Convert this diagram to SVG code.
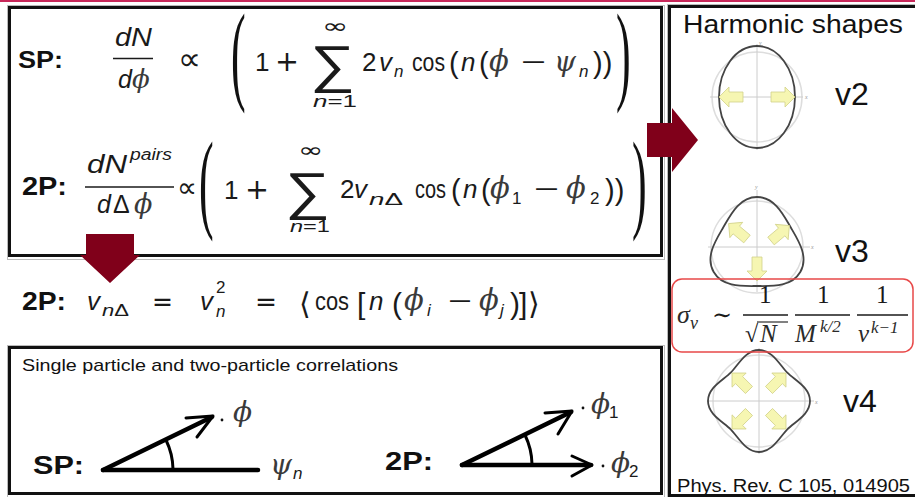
<svg xmlns="http://www.w3.org/2000/svg" xmlns:xlink="http://www.w3.org/1999/xlink" width="915" height="497" viewBox="0 0 915 497">
<style>
.b{font-family:"Liberation Sans",Arial,sans-serif;font-weight:bold;fill:#111}
.m{font-family:"Liberation Sans",Arial,sans-serif;fill:#1a1a1a}
.i{font-family:"Liberation Sans",Arial,sans-serif;font-style:italic;fill:#1a1a1a}
.g{font-family:"Liberation Serif","DejaVu Serif",serif;font-style:italic;fill:#2a2a2a}
.ph{font-family:"DejaVu Serif",serif;font-style:italic;fill:#3a3a3a}
.s{font-family:"DejaVu Sans",sans-serif;fill:#1a1a1a}
.sum{font-family:"Liberation Sans",Arial,sans-serif;fill:#1a1a1a}
.bp{font-family:"Liberation Serif","DejaVu Serif",serif;font-size:110px;fill:#111}
.lab{font-family:"Liberation Sans",Arial,sans-serif;fill:#111}
.box{fill:#fff;stroke:#111;stroke-width:3}
.shd{fill:none;stroke:#bbb;stroke-width:1}
.red{fill:#80001a}
.ya{fill:#f6f6b2;stroke:#d2d28a;stroke-width:0.8}
.shape{fill:none;stroke:#444;stroke-width:1.8}
.circ{fill:none;stroke:#ddd;stroke-width:1.5}
.ax{stroke:#ccc;stroke-width:1}
.tiny{font-family:"Liberation Serif",serif;font-style:italic;font-size:6px;fill:#999}
.vec{stroke:#000;stroke-width:4.5;stroke-linecap:round;fill:none}
.vh{stroke:#000;stroke-width:3;stroke-linecap:round;stroke-linejoin:round;fill:none}
.fr{stroke:#1a1a1a;stroke-width:1.3}
</style>
<defs>
<path id="ya" d="M0,-5 L14,-5 L14,-10 L24,0 L14,10 L14,5 L0,5 Z"/>
</defs>
<rect x="0" y="0" width="915" height="497" fill="#fff"/>
<rect x="0" y="0" width="915" height="2" fill="#c8285a"/>

<g id="formula-box">
<rect class="shd" x="7.5" y="5.5" width="657" height="254"/>
<rect class="box" x="9.5" y="7.5" width="652" height="248"/>
</g>

<g id="formula-sp">
<text class="b" x="18" y="68" font-size="24" textLength="45" lengthAdjust="spacingAndGlyphs">SP:</text>
<text class="i" x="115" y="46" font-size="25" textLength="37" lengthAdjust="spacingAndGlyphs">dN</text>
<line class="fr" x1="113" y1="58.5" x2="153" y2="58.5"/>
<text class="i" x="118" y="88" font-size="25">d</text>
<text class="ph" x="132" y="88" font-size="26">ϕ</text>
<text class="s" x="178" y="70" font-size="32" textLength="23" lengthAdjust="spacingAndGlyphs">∝</text>
<text class="bp" transform="translate(231,90) scale(0.4,1)">(</text>
<text class="m" x="255" y="71" font-size="26">1</text>
<text class="s" x="275" y="71" font-size="28" textLength="24" lengthAdjust="spacingAndGlyphs">+</text>
<text class="s" x="322" y="33" font-size="20" textLength="26" lengthAdjust="spacingAndGlyphs">∞</text>
<text class="sum" x="310" y="82" font-size="52" textLength="45" lengthAdjust="spacingAndGlyphs">∑</text>
<text x="313" y="107" font-size="17" textLength="44" lengthAdjust="spacingAndGlyphs"><tspan class="i">n</tspan><tspan class="m">=1</tspan></text>
<text class="m" x="362" y="71" font-size="26">2</text>
<text class="i" x="379" y="71" font-size="26">v</text>
<text class="i" x="394" y="77" font-size="17">n</text>
<text class="m" x="412" y="71" font-size="26" textLength="33" lengthAdjust="spacingAndGlyphs">cos</text>
<text class="m" x="449" y="73" font-size="29">(</text>
<text class="i" x="461" y="71" font-size="26">n</text>
<text class="m" x="479" y="73" font-size="29">(</text>
<text class="ph" x="489" y="71" font-size="29">ϕ</text>
<text class="m" x="521" y="71" font-size="26" textLength="25" lengthAdjust="spacingAndGlyphs">−</text>
<text class="ph" x="554" y="71" font-size="28">ψ</text>
<text class="i" x="579" y="77" font-size="17">n</text>
<text class="m" x="593" y="73" font-size="29">))</text>
<text class="bp" transform="translate(616,90) scale(0.4,1)">)</text>
</g>

<g id="formula-2p">
<text class="b" x="22" y="195" font-size="25" textLength="45" lengthAdjust="spacingAndGlyphs">2P:</text>
<text class="i" x="87" y="173" font-size="25" textLength="40" lengthAdjust="spacingAndGlyphs">dN</text>
<text class="i" x="130" y="160" font-size="16" textLength="42" lengthAdjust="spacingAndGlyphs">pairs</text>
<line class="fr" x1="85" y1="187" x2="174" y2="187"/>
<text class="i" x="97" y="213" font-size="25">d</text>
<text class="m" x="113" y="213" font-size="25">Δ</text>
<text class="ph" x="134" y="213" font-size="27">ϕ</text>
<text class="s" x="177" y="197" font-size="28" textLength="20" lengthAdjust="spacingAndGlyphs">∝</text>
<text class="bp" transform="translate(199,218) scale(0.4,1)">(</text>
<text class="m" x="224" y="199" font-size="26">1</text>
<text class="s" x="245" y="199" font-size="28" textLength="24" lengthAdjust="spacingAndGlyphs">+</text>
<text class="s" x="298" y="157" font-size="20" textLength="25" lengthAdjust="spacingAndGlyphs">∞</text>
<text class="sum" x="285" y="209" font-size="52" textLength="45" lengthAdjust="spacingAndGlyphs">∑</text>
<text x="290" y="232" font-size="17" textLength="40" lengthAdjust="spacingAndGlyphs"><tspan class="i">n</tspan><tspan class="m">=1</tspan></text>
<text class="m" x="340" y="198" font-size="26">2</text>
<text class="i" x="354" y="198" font-size="26">v</text>
<text x="369" y="205" font-size="17" textLength="34" lengthAdjust="spacingAndGlyphs"><tspan class="i">n</tspan><tspan class="m">Δ</tspan></text>
<text class="m" x="415" y="198" font-size="26" textLength="31" lengthAdjust="spacingAndGlyphs">cos</text>
<text class="m" x="451" y="200" font-size="29">(</text>
<text class="i" x="463" y="198" font-size="26">n</text>
<text class="m" x="481" y="200" font-size="29">(</text>
<text class="ph" x="490" y="198" font-size="29">ϕ</text>
<text class="m" x="512" y="204" font-size="17">1</text>
<text class="m" x="534" y="198" font-size="26" textLength="25" lengthAdjust="spacingAndGlyphs">−</text>
<text class="ph" x="566" y="198" font-size="29">ϕ</text>
<text class="m" x="590" y="204" font-size="17">2</text>
<text class="m" x="605" y="200" font-size="29">))</text>
<text class="bp" transform="translate(632,218) scale(0.4,1)">)</text>
</g>

<g id="formula-vn">
<text class="b" x="22" y="310" font-size="25" textLength="44" lengthAdjust="spacingAndGlyphs">2P:</text>
<text class="i" x="87" y="310" font-size="26">v</text>
<text x="102" y="316" font-size="17" textLength="27" lengthAdjust="spacingAndGlyphs"><tspan class="i">n</tspan><tspan class="m">Δ</tspan></text>
<text class="s" x="152" y="311" font-size="26" textLength="21" lengthAdjust="spacingAndGlyphs">=</text>
<text class="i" x="200" y="310" font-size="26">v</text>
<text class="m" x="216" y="293" font-size="17">2</text>
<text class="i" x="216" y="317" font-size="17">n</text>
<text class="s" x="255" y="311" font-size="26" textLength="22" lengthAdjust="spacingAndGlyphs">=</text>
<text class="s" x="299" y="314" font-size="30">⟨</text>
<text class="m" x="315" y="310" font-size="26" textLength="34" lengthAdjust="spacingAndGlyphs">cos</text>
<text class="m" x="357" y="314" font-size="30">[</text>
<text class="i" x="369" y="310" font-size="26">n</text>
<text class="m" x="392" y="314" font-size="30">(</text>
<text class="ph" x="404" y="310" font-size="29">ϕ</text>
<text class="i" x="427" y="316" font-size="17">i</text>
<text class="m" x="448" y="310" font-size="26" textLength="24" lengthAdjust="spacingAndGlyphs">−</text>
<text class="ph" x="479" y="310" font-size="29">ϕ</text>
<text class="i" x="500" y="316" font-size="17">j</text>
<text class="m" x="510" y="314" font-size="30">)</text>
<text class="m" x="519" y="314" font-size="30">]</text>
<text class="s" x="528" y="314" font-size="30">⟩</text>
</g>

<g id="correlations-box">
<rect class="shd" x="7.5" y="345.5" width="657" height="152"/>
<rect class="box" x="9.5" y="347.5" width="652" height="146"/>
<text class="lab" x="22" y="371" font-size="17" textLength="376" lengthAdjust="spacingAndGlyphs">Single particle and two-particle correlations</text>
</g>

<g id="sp-diagram">
<text class="b" x="33" y="474" font-size="26" textLength="51" lengthAdjust="spacingAndGlyphs">SP:</text>
<line class="vec" x1="103" y1="470" x2="258" y2="470"/>
<line class="vec" x1="103" y1="470" x2="212" y2="417"/>
<path class="vh" d="M186,418 L213,416 L197,437"/>
<path class="vh" d="M166,440 A70,70 0 0 1 173,469"/>
<circle cx="222" cy="420" r="1.4" fill="#111"/>
<text class="ph" x="233" y="421" font-size="28">ϕ</text>
<text class="ph" x="270" y="474" font-size="28">ψ</text>
<text class="i" x="293" y="479" font-size="17">n</text>
</g>

<g id="tp-diagram">
<text class="b" x="385" y="470" font-size="26" textLength="48" lengthAdjust="spacingAndGlyphs">2P:</text>
<line class="vec" x1="462" y1="465" x2="591" y2="465"/>
<line class="vec" x1="462" y1="465" x2="571" y2="412"/>
<path class="vh" d="M572,456 L592,465 L572,476"/>
<path class="vh" d="M545,413 L572,411 L558,434"/>
<path class="vh" d="M525,435 A70,70 0 0 1 532,464"/>
<circle cx="583" cy="408" r="1.4" fill="#111"/>
<text class="ph" x="591" y="413" font-size="28">ϕ</text>
<text class="m" x="609" y="418" font-size="17">1</text>
<circle cx="603" cy="466" r="1.4" fill="#111"/>
<text class="ph" x="611" y="472" font-size="28">ϕ</text>
<text class="m" x="629" y="477" font-size="17">2</text>
</g>

<g id="arrow-down">
<path class="red" d="M86,234 L134,234 L134,255 L140,255 L110,283 L80,255 L86,255 Z"/>
</g>

<g id="harmonic-panel">
<rect class="shd" x="667.5" y="4.5" width="260" height="494"/>
<rect class="box" x="669.5" y="6.5" width="260" height="489"/>
<text class="lab" x="683" y="33" font-size="25" textLength="220" lengthAdjust="spacingAndGlyphs">Harmonic shapes</text>
</g>

<g id="arrow-right">
<path class="red" d="M647,123 L672,123 L672,108 L698,140 L672,172 L672,157 L647,157 Z"/>
</g>

<g id="shape-v2">
<circle class="circ" cx="757" cy="97" r="45"/>
<line class="ax" x1="710" y1="97" x2="803" y2="97"/>
<line class="ax" x1="757" y1="44" x2="757" y2="150"/>
<text class="tiny" x="759" y="45">y</text>
<text class="tiny" x="805" y="99">x</text>
<ellipse class="shape" cx="757" cy="97" rx="38" ry="51"/>
<use xlink:href="#ya" class="ya" transform="translate(771,97)"/>
<use xlink:href="#ya" class="ya" transform="translate(743,97) rotate(180)"/>
<text class="lab" x="835" y="105" font-size="32">v2</text>
</g>

<g id="shape-v3">
<circle class="circ" cx="757" cy="247" r="46"/>
<line class="ax" x1="708" y1="247" x2="810" y2="247"/>
<line class="ax" x1="757" y1="190" x2="757" y2="292"/>
<text class="tiny" x="755" y="189">y</text>
<text class="tiny" x="811" y="249">x</text>
<path class="shape" d="M757,197 C739.1,197 730.2,215.4 723.2,227.5 C716.2,239.6 704.75,256.5 713.7,272 C722.65,287.5 743.1,286 757,286 C770.9,286 791.35,287.5 800.3,272 C809.25,256.5 797.8,239.6 790.8,227.5 C783.8,215.4 774.9,197 757,197 Z"/>
<use xlink:href="#ya" class="ya" transform="translate(747,239) rotate(-140)"/>
<use xlink:href="#ya" class="ya" transform="translate(771,241) rotate(-40)"/>
<use xlink:href="#ya" class="ya" transform="translate(757,257) rotate(90)"/>
<text class="lab" x="835" y="262" font-size="32">v3</text>
</g>

<g id="shape-v4">
<circle class="circ" cx="759" cy="401" r="46"/>
<line class="ax" x1="707" y1="401" x2="814" y2="401"/>
<line class="ax" x1="759" y1="348" x2="759" y2="454"/>
<text class="tiny" x="815" y="404">x</text>
<path class="shape" d="M810,401 C810,387.5 794.8,380.2 787.3,372.7 C779.8,365.2 772.5,350 759,350 C745.5,350 738.2,365.2 730.7,372.7 C723.2,380.2 708,387.5 708,401 C708,414.5 723.2,421.8 730.7,429.3 C738.2,436.8 745.5,452 759,452 C772.5,452 779.8,436.8 787.3,429.3 C794.8,421.8 810,414.5 810,401 Z"/>
<use xlink:href="#ya" class="ya" transform="translate(749,390) rotate(-135)"/>
<use xlink:href="#ya" class="ya" transform="translate(769,390) rotate(-45)"/>
<use xlink:href="#ya" class="ya" transform="translate(749,412) rotate(135)"/>
<use xlink:href="#ya" class="ya" transform="translate(769,412) rotate(45)"/>
<text class="lab" x="843" y="412" font-size="32">v4</text>
</g>

<g id="sigma-box">
<rect x="672" y="279" width="241" height="73" rx="10" fill="none" stroke="#e84848" stroke-width="1.5"/>
<text class="g" x="677" y="323" font-size="26">σ</text>
<text class="g" x="690" y="329" font-size="18">ν</text>
<text x="712" y="323" font-size="24" font-family="'DejaVu Serif',serif" fill="#1a1a1a">∼</text>
<text x="759" y="303" font-size="25" font-family="'Liberation Serif',serif" fill="#1a1a1a">1</text>
<line class="fr" x1="743" y1="315" x2="788" y2="315"/>
<text x="745" y="342" font-size="24" font-family="'Liberation Serif',serif" fill="#1a1a1a">√</text>
<line stroke="#1a1a1a" stroke-width="1.1" x1="757" y1="322" x2="788" y2="322"/>
<text class="g" x="760" y="342" font-size="25">N</text>
<text x="817" y="303" font-size="25" font-family="'Liberation Serif',serif" fill="#1a1a1a">1</text>
<line class="fr" x1="795" y1="315" x2="850" y2="315"/>
<text class="g" x="795" y="342" font-size="25">M</text>
<text class="g" x="820" y="332" font-size="17">k/2</text>
<text x="876" y="303" font-size="25" font-family="'Liberation Serif',serif" fill="#1a1a1a">1</text>
<line class="fr" x1="857" y1="315" x2="908" y2="315"/>
<text class="g" x="858" y="342" font-size="25">ν</text>
<text class="g" x="871" y="333" font-size="17">k−1</text>
</g>

<g id="citation">
<text class="lab" x="677" y="492" font-size="18" textLength="233" lengthAdjust="spacingAndGlyphs">Phys. Rev. C 105, 014905</text>
</g>
</svg>
